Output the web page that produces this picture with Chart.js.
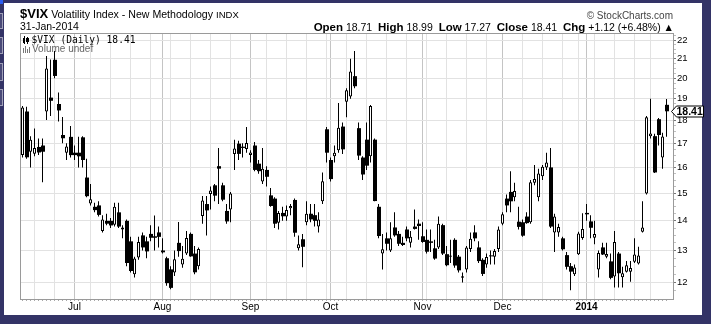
<!DOCTYPE html>
<html><head><meta charset="utf-8">
<script src="https://cdn.jsdelivr.net/npm/chart.js@4.4.1/dist/chart.umd.min.js"></script>
<style>
html,body{margin:0;padding:0;}
body{width:711px;height:324px;background:#333366;position:relative;overflow:hidden;font-family:"Liberation Sans",Arial,sans-serif;}
#panel{position:absolute;left:4px;top:3px;width:698px;height:312px;background:#fff;}
#c{position:absolute;left:0;top:0;}
.t{position:absolute;white-space:pre;color:#000;line-height:1;}
.lb{position:absolute;left:0;width:2px;border:1px solid #a0a0b8;border-left:none;background:#4a4a78;}
.ic{position:absolute;}
</style></head><body>
<div id="panel"></div>
<div style="position:absolute;left:0;top:0;width:3px;height:4px;background:#2b5cf0"></div>
<div class="lb" style="top:13px;height:14px"></div>
<div class="lb" style="top:37px;height:15px"></div>
<div class="lb" style="top:63px;height:16px"></div>
<div class="lb" style="top:89px;height:15px"></div>
<canvas id="c" width="711" height="324"></canvas>
<div class="t" style="left:20px;top:7.3px;font-size:13px;"><b>$VIX</b><span style="font-size:10.6px"> Volatility Index - New Methodology </span><span style="font-size:9.5px">INDX</span></div>
<div class="t" style="left:20px;top:21.4px;font-size:10.5px;">31-Jan-2014</div>
<div class="t" style="right:38px;top:10.8px;font-size:10px;color:#444;">© StockCharts.com</div>
<div class="t" id="ohlc" style="right:37px;top:21.6px;font-size:10.5px;"></div>
<div class="ic" style="left:23px;top:38px;width:2px;height:5px;background:#000"></div>
<div class="ic" style="left:24px;top:36px;width:1px;height:8px;background:#000"></div>
<div class="ic" style="left:27px;top:37px;width:1px;height:7px;background:#000"></div>
<div class="ic" style="left:26px;top:38px;width:3px;height:4px;background:#000"></div>
<div class="t" id="leg" style="left:31.5px;top:35.2px;font-size:9.6px;font-family:'DejaVu Sans Mono',monospace;"></div>
<div class="ic" style="left:23px;top:48px;width:1px;height:5px;background:#777"></div>
<div class="ic" style="left:25px;top:46px;width:1px;height:7px;background:#777"></div>
<div class="ic" style="left:27px;top:49px;width:1px;height:4px;background:#777"></div>
<div class="ic" style="left:29px;top:47px;width:1px;height:6px;background:#777"></div>
<div class="t" style="left:32px;top:43.8px;font-size:10px;color:#666;">Volume undef</div>
<script>
const dates = [
'2013-06-12','2013-06-13','2013-06-14','2013-06-17','2013-06-18','2013-06-19','2013-06-20','2013-06-21','2013-06-24','2013-06-25','2013-06-26','2013-06-27','2013-06-28',
'2013-07-01','2013-07-02','2013-07-03','2013-07-05','2013-07-08','2013-07-09','2013-07-10','2013-07-11','2013-07-12','2013-07-15','2013-07-16','2013-07-17','2013-07-18','2013-07-19','2013-07-22','2013-07-23','2013-07-24','2013-07-25','2013-07-26','2013-07-29','2013-07-30','2013-07-31',
'2013-08-01','2013-08-02','2013-08-05','2013-08-06','2013-08-07','2013-08-08','2013-08-09','2013-08-12','2013-08-13','2013-08-14','2013-08-15','2013-08-16','2013-08-19','2013-08-20','2013-08-21','2013-08-22','2013-08-23','2013-08-26','2013-08-27','2013-08-28','2013-08-29','2013-08-30',
'2013-09-03','2013-09-04','2013-09-05','2013-09-06','2013-09-09','2013-09-10','2013-09-11','2013-09-12','2013-09-13','2013-09-16','2013-09-17','2013-09-18','2013-09-19','2013-09-20','2013-09-23','2013-09-24','2013-09-25','2013-09-26','2013-09-27','2013-09-30',
'2013-10-01','2013-10-02','2013-10-03','2013-10-04','2013-10-07','2013-10-08','2013-10-09','2013-10-10','2013-10-11','2013-10-14','2013-10-15','2013-10-16','2013-10-17','2013-10-18','2013-10-21','2013-10-22','2013-10-23','2013-10-24','2013-10-25','2013-10-28','2013-10-29','2013-10-30','2013-10-31',
'2013-11-01','2013-11-04','2013-11-05','2013-11-06','2013-11-07','2013-11-08','2013-11-11','2013-11-12','2013-11-13','2013-11-14','2013-11-15','2013-11-18','2013-11-19','2013-11-20','2013-11-21','2013-11-22','2013-11-25','2013-11-26','2013-11-27','2013-11-29',
'2013-12-02','2013-12-03','2013-12-04','2013-12-05','2013-12-06','2013-12-09','2013-12-10','2013-12-11','2013-12-12','2013-12-13','2013-12-16','2013-12-17','2013-12-18','2013-12-19','2013-12-20','2013-12-23','2013-12-24','2013-12-26','2013-12-27','2013-12-30','2013-12-31',
'2014-01-02','2014-01-03','2014-01-06','2014-01-07','2014-01-08','2014-01-09','2014-01-10','2014-01-13','2014-01-14','2014-01-15','2014-01-16','2014-01-17','2014-01-21','2014-01-22','2014-01-23','2014-01-24','2014-01-27','2014-01-28','2014-01-29','2014-01-30','2014-01-31'
];
const openV = [
16.50,18.40,16.64,16.56,16.84,16.90,18.40,19.05,20.94,18.75,17.35,16.60,17.27,
16.60,16.60,17.25,15.60,14.62,14.50,14.55,13.65,14.00,14.00,13.86,14.30,13.70,14.00,13.30,12.25,12.77,13.50,13.30,13.55,13.47,13.60,
13.00,12.75,12.40,12.30,13.25,12.55,12.90,13.55,12.90,12.50,14.17,14.60,14.97,15.30,16.05,15.30,14.35,14.40,16.55,16.98,16.85,16.75,
16.50,16.90,16.15,15.45,15.90,14.92,14.80,13.93,14.28,14.15,14.45,14.75,13.07,13.37,13.95,14.25,14.20,13.80,14.70,17.60,
16.30,16.45,16.70,17.72,18.85,19.10,20.10,17.65,16.40,17.15,16.45,17.15,14.50,12.90,13.40,13.00,13.77,13.55,13.25,13.70,13.25,13.80,13.90,
13.47,13.35,13.30,13.07,13.10,13.85,12.88,12.80,13.35,12.80,12.14,12.40,13.05,13.60,13.10,12.70,12.55,12.83,12.80,13.05,
13.90,14.80,15.05,14.85,13.97,13.95,14.15,13.95,15.40,14.85,15.65,16.00,16.00,13.60,13.60,13.40,12.85,12.50,12.25,12.88,13.41,
14.28,13.98,13.42,12.40,13.10,12.80,12.65,12.18,12.90,12.16,12.33,12.33,12.64,12.58,13.62,14.99,17.30,17.30,18.05,16.40,18.71
];
const highV = [
18.65,18.62,17.30,17.63,17.20,17.20,21.14,20.95,21.40,19.30,18.15,17.00,17.75,
16.90,17.27,17.30,16.35,15.35,14.65,14.70,14.20,14.25,14.10,14.65,14.65,13.85,14.05,13.45,12.80,13.45,13.60,13.45,13.85,14.19,13.80,
13.40,12.80,12.50,13.00,13.96,13.15,13.65,13.60,13.15,13.10,14.90,14.90,15.25,15.35,16.80,15.40,14.60,15.05,17.15,17.10,17.00,17.70,
16.70,17.05,16.30,16.80,16.05,15.20,14.85,14.35,14.50,14.55,14.60,14.80,13.50,13.55,14.70,14.60,14.60,14.30,15.80,17.70,
16.40,16.90,18.80,17.90,19.50,21.00,21.40,17.90,16.45,17.90,18.70,17.20,14.60,13.55,13.60,13.95,14.30,13.65,13.45,13.80,13.65,14.40,14.05,
13.95,13.70,13.70,13.35,14.15,13.90,13.15,13.35,13.40,12.85,12.30,13.15,13.60,13.85,13.30,12.75,12.90,13.00,13.05,13.80,
14.30,14.95,15.85,15.40,14.50,14.05,14.30,15.50,16.10,15.95,16.10,16.60,16.80,14.25,13.90,13.45,12.95,12.60,12.55,13.62,14.27,
14.60,14.20,14.00,13.00,13.25,13.25,12.90,13.65,12.95,12.48,12.66,12.66,13.40,13.12,14.70,18.20,19.00,17.40,18.10,17.45,18.99
];
const lowV = [
16.40,16.35,16.00,16.45,16.50,15.42,18.01,18.20,20.00,17.95,17.00,16.30,16.40,
16.30,16.00,16.00,14.85,14.55,14.30,14.15,13.60,13.85,13.75,13.80,13.75,13.40,12.50,12.30,12.15,12.70,13.00,12.75,13.30,13.00,13.10,
12.90,11.90,11.80,12.20,12.80,12.45,12.85,12.80,12.25,12.40,13.90,13.50,14.40,14.70,14.60,14.70,13.90,13.95,15.90,16.30,16.40,16.60,
16.20,15.85,15.75,15.35,15.25,14.50,13.75,13.70,14.00,14.00,14.20,13.45,13.00,12.47,13.85,13.95,13.80,13.60,14.60,16.20,
15.45,16.20,16.60,16.55,18.14,19.00,19.50,16.30,15.50,15.90,16.20,14.70,13.40,12.40,13.00,12.95,13.45,13.15,13.15,13.30,13.10,13.70,13.35,
13.25,12.90,12.95,12.70,13.05,12.85,12.50,12.60,12.45,12.30,12.00,12.30,12.95,13.30,12.60,12.20,12.45,12.55,12.55,12.95,
13.85,14.30,14.30,14.70,13.70,13.45,13.90,13.90,15.30,14.70,15.50,15.90,13.75,12.95,13.45,13.00,12.40,11.77,12.20,12.85,13.35,
14.00,13.40,13.20,12.15,12.85,12.75,12.10,11.85,11.85,11.85,12.30,12.02,12.60,12.55,13.60,14.95,17.20,15.78,16.90,15.95,17.27
];
const closeV = [
18.59,16.41,17.15,16.80,16.61,16.64,20.49,18.90,20.11,18.45,17.21,16.86,16.50,
16.50,16.45,16.30,14.89,14.78,14.38,14.21,14.05,13.90,13.84,14.50,13.80,13.77,12.60,12.35,12.74,13.28,13.10,12.97,13.42,13.42,13.45,
12.94,11.98,11.84,12.72,12.98,12.73,13.41,12.81,12.31,13.05,14.73,14.37,15.10,14.91,15.95,14.76,13.98,14.99,16.77,16.55,16.80,17.01,
16.61,15.90,15.85,15.95,15.63,14.53,13.90,14.28,14.16,14.38,14.53,13.59,13.20,13.12,14.25,14.05,14.00,14.05,15.46,16.60,
15.54,16.60,17.67,16.74,19.41,20.34,19.60,16.48,15.72,16.07,18.66,14.71,13.48,13.04,13.22,13.40,13.50,13.22,13.18,13.40,13.45,13.72,13.82,
13.28,12.96,13.25,12.74,13.90,12.90,12.53,12.84,12.52,12.37,12.19,13.10,13.39,13.40,12.66,12.26,12.79,12.81,12.98,13.70,
14.23,14.55,14.70,15.08,13.79,13.49,13.92,15.42,15.54,15.76,16.03,16.20,13.80,14.15,13.79,13.04,12.48,12.33,12.46,13.56,13.72,
14.23,13.76,13.55,12.92,12.87,12.89,12.14,13.28,12.28,12.28,12.53,12.44,12.87,12.84,13.77,18.14,17.42,15.80,17.35,17.29,18.41
];
const yTickValues = [12,13,14,15,16,17,18,19,20,21,22];
const monthNames = ['Jan','Feb','Mar','Apr','May','Jun','Jul','Aug','Sep','Oct','Nov','Dec'];

const FONT = '"Liberation Sans", Arial, sans-serif';
const parsed = dates.map(s => new Date(s + 'T00:00:00Z'));
const isMonthStart = parsed.map((d, i) => i > 0 && d.getUTCMonth() !== parsed[i - 1].getUTCMonth());
const isWeekStart = parsed.map((d, i) => i > 0 && d.getUTCDay() < parsed[i - 1].getUTCDay());
const xLabel = parsed.map((d, i) => !isMonthStart[i] ? '' : (d.getUTCMonth() === 0 ? String(d.getUTCFullYear()) : monthNames[d.getUTCMonth()]));
const isYearLabel = parsed.map((d, i) => isMonthStart[i] && d.getUTCMonth() === 0);

const yAllTicks = [];
for (let k = 47; k <= 89; k++) yAllTicks.push(k / 4);
const isMajorY = v => yTickValues.includes(v);

const n = closeV.length;
const last = n - 1;
const chg = closeV[last] - closeV[last - 1];
const pct = chg / closeV[last - 1] * 100;
const sgn = v => (v >= 0 ? '+' : '') + v.toFixed(2);
document.getElementById('ohlc').innerHTML =
  '<b style="font-size:11.5px">Open</b> ' + openV[last].toFixed(2) +
  '  <b style="font-size:11.5px">High</b> ' + highV[last].toFixed(2) +
  '  <b style="font-size:11.5px">Low</b> ' + lowV[last].toFixed(2) +
  '  <b style="font-size:11.5px">Close</b> ' + closeV[last].toFixed(2) +
  '  <b style="font-size:11.5px">Chg</b> ' + sgn(chg) + ' (' + sgn(pct) + '%) ' + (chg >= 0 ? '▲' : '▼');
document.getElementById('leg').textContent = '$VIX (Daily) ' + closeV[last].toFixed(2);

// candles: wicks, hollow (up) bodies and filled (down) bodies
const rising = i => closeV[i] >= openV[i];
const wickData = dates.map((_, i) => ({ x: i, y: [lowV[i], highV[i]] }));
const upBodyData = dates.map((_, i) => rising(i) ? { x: i, y: [openV[i], closeV[i]] } : null).filter(Boolean);
const BLACK_SHIFT = 0.125; // half a pixel so the 4px filled body sits on whole pixels
const downBodyData = dates.map((_, i) => !rising(i) ? { x: i + BLACK_SHIFT, y: [closeV[i], openV[i]] } : null).filter(Boolean);

const framePlugin = {
  id: 'frame',
  afterDraw(chart) {
    const { ctx, chartArea: a } = chart;
    ctx.save();
    ctx.strokeStyle = '#9a9a9a';
    ctx.lineWidth = 1;
    ctx.strokeRect(a.left + 0.5, a.top + 0.5, a.right - a.left, a.bottom - a.top);
    const y = Math.round(chart.scales.y.getPixelForValue(closeV[last])) + 0.5;
    const x0 = a.right - 1.5, x1 = a.right + 3.5, x2 = a.right + 30.5;
    ctx.beginPath();
    ctx.moveTo(x0, y);
    ctx.lineTo(x1, y - 5.5);
    ctx.lineTo(x2, y - 5.5);
    ctx.lineTo(x2, y + 5.5);
    ctx.lineTo(x1, y + 5.5);
    ctx.closePath();
    ctx.fillStyle = '#fff';
    ctx.fill();
    ctx.strokeStyle = '#000';
    ctx.stroke();
    ctx.fillStyle = '#000';
    ctx.font = 'bold 10.5px ' + FONT;
    ctx.textBaseline = 'middle';
    ctx.textAlign = 'left';
    ctx.fillText(closeV[last].toFixed(2), a.right + 3.5, y + 0.5);
    ctx.restore();
  }
};

new Chart(document.getElementById('c'), {
  type: 'bar',
  data: {
    datasets: [
      { label: 'up', data: upBodyData, backgroundColor: '#ffffff', borderColor: '#000', borderWidth: 1,
        borderSkipped: false, barThickness: 3, minBarLength: 1, inflateAmount: 0, grouped: false, order: 0 },
      { label: 'down', data: downBodyData, backgroundColor: '#000000', borderWidth: 0,
        barThickness: 4, minBarLength: 1, inflateAmount: 0, grouped: false, order: 0 },
      { label: 'wick', data: wickData, backgroundColor: '#000', borderWidth: 0,
        barThickness: 1, inflateAmount: 0, grouped: false, order: 1 }
    ]
  },
  options: {
    responsive: false,
    animation: false,
    devicePixelRatio: 1,
    layout: { padding: { left: 20, top: 33, right: 2, bottom: 5 } },
    plugins: { legend: { display: false }, tooltip: { enabled: false } },
    scales: {
      x: {
        type: 'linear', min: -0.625, max: 162.625, bounds: 'data', offset: false,
        afterBuildTicks: s => { s.ticks = dates.map((_, i) => ({ value: i })); },
        afterFit: s => { s.height = 20; },
        grid: {
          offset: false, lineWidth: 1, tickLength: 2, tickColor: '#a8a8a8',
          color: c => {
            if (!c.tick) return 'rgba(0,0,0,0)';
            const i = c.tick.value;
            if (isMonthStart[i]) return '#c4c4c4';
            if (isWeekStart[i]) return '#e2e2e2';
            return 'rgba(0,0,0,0)';
          }
        },
        border: { display: false },
        ticks: {
          autoSkip: false, maxRotation: 0, minRotation: 0, padding: 0, color: '#000',
          callback: v => xLabel[v] || '',
          font: c => ({ family: FONT, size: 10, weight: (c.tick && isYearLabel[c.tick.value]) ? 'bold' : 'normal' })
        }
      },
      y: {
        type: 'logarithmic', position: 'right', min: 11.515, max: 22.39, bounds: 'data',
        afterBuildTicks: s => { s.ticks = yAllTicks.map(v => ({ value: v })); },
        afterFit: s => { s.width = 36; },
        grid: {
          lineWidth: 1, tickLength: 3,
          color: c => (c.tick && isMajorY(c.tick.value)) ? '#e2e2e2' : 'rgba(0,0,0,0)',
          tickColor: c => (c.tick && isMajorY(c.tick.value)) ? '#777' : '#c0c0c0'
        },
        border: { display: false },
        ticks: {
          autoSkip: false, padding: 1, color: '#000',
          font: { family: FONT, size: 9.5 },
          callback: v => isMajorY(v) ? String(v) : ''
        }
      }
    }
  },
  plugins: [framePlugin]
});
</script>
</body></html>
